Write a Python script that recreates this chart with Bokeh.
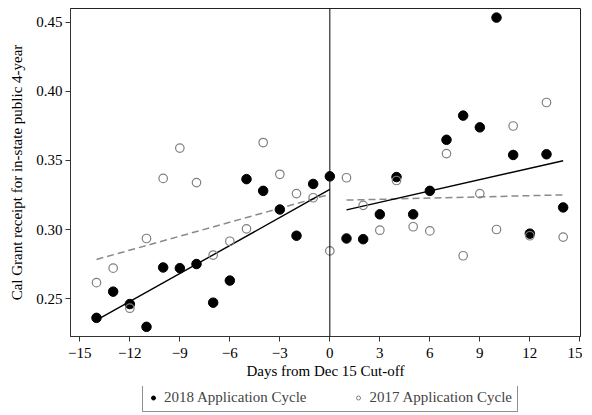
import numpy as np
from bokeh.plotting import figure
from bokeh.layouts import column
from bokeh.models import Range1d, FixedTicker, Legend, LegendItem, Span, NumeralTickFormatter
from bokeh.embed import file_html
from bokeh.resources import INLINE

# ---- data ----
days = list(range(-14, 15))
y2018 = [0.236, 0.255, 0.246, 0.2295, 0.2725, 0.272, 0.275, 0.247, 0.263, 0.3365,
         0.328, 0.3145, 0.2955, 0.333, 0.3385,
         0.2935, 0.293, 0.311, 0.338, 0.311, 0.328, 0.365, 0.3825, 0.374, 0.4535,
         0.354, 0.297, 0.3545, 0.316]
y2017 = [0.2615, 0.272, 0.243, 0.2935, 0.337, 0.359, 0.334, 0.2815, 0.2915, 0.3005,
         0.363, 0.340, 0.326, 0.323, 0.2845,
         0.3375, 0.3175, 0.2995, 0.3355, 0.302, 0.299, 0.355, 0.281, 0.326, 0.300,
         0.375, 0.2955, 0.392, 0.2945]
# fitted-line values at the first and last day of each side of the cut-off
fit2018_left = [0.2343, 0.329]
fit2018_right = [0.3142, 0.3498]
fit2017_left = [0.2783, 0.3255]
fit2017_right = [0.3213, 0.3251]
x_ticks = [-15, -12, -9, -6, -3, 0, 3, 6, 9, 12, 15]
y_ticks = [0.25, 0.30, 0.35, 0.40, 0.45]
series_labels = ["2018 Application Cycle", "2017 Application Cycle"]
x_title = "Days from Dec 15 Cut-off"
y_title = "Cal Grant receipt for in-state public 4-year"

FONT = "Liberation Serif"
FS = "15px"

p = figure(width=582, height=386, output_backend="svg", toolbar_location=None,
           x_range=Range1d(-15.56, 15.04), y_range=Range1d(0.2225, 0.4601),
           min_border_left=70, min_border_right=2, min_border_top=8, min_border_bottom=50)
p.background_fill_color = "white"
p.border_fill_color = "white"
p.outline_line_color = "#222222"
p.outline_line_width = 1
p.xgrid.visible = False
p.ygrid.visible = False

for ax in (p.xaxis[0], p.yaxis[0]):
    ax.axis_line_color = "#333333"
    ax.major_tick_line_color = "#333333"
    ax.major_tick_out = 5
    ax.major_tick_in = 0
    ax.minor_tick_line_color = None
    ax.major_label_text_font = FONT
    ax.major_label_text_font_size = FS
    ax.major_label_text_color = "black"
    ax.axis_label_text_font = FONT
    ax.axis_label_text_font_size = FS
    ax.axis_label_text_font_style = "normal"
    ax.axis_label_text_color = "black"

p.xaxis.ticker = FixedTicker(ticks=x_ticks)
p.yaxis.ticker = FixedTicker(ticks=y_ticks)
p.yaxis.formatter = NumeralTickFormatter(format="0.00")
p.xaxis.axis_label = x_title
p.yaxis.axis_label = y_title
p.xaxis.major_label_standoff = 6
p.yaxis.major_label_standoff = 3
p.xaxis.axis_label_standoff = 2
p.yaxis.axis_label_standoff = 8

# cutoff line
p.add_layout(Span(location=0, dimension="height", line_color="black", line_width=1))

d = np.array(days)
left_x = [int(d[d <= 0].min()), int(d[d <= 0].max())]
right_x = [int(d[d > 0].min()), int(d[d > 0].max())]

p.line(left_x, fit2017_left, line_color="#8a8a8a", line_width=1.5, line_dash="7 4")
p.line(right_x, fit2017_right, line_color="#8a8a8a", line_width=1.5, line_dash="7 4")
p.line(left_x, fit2018_left, line_color="black", line_width=1.4)
p.line(right_x, fit2018_right, line_color="black", line_width=1.4)

p.scatter(days, y2018, size=9.5, fill_color="black", line_color="black")
p.scatter(days, y2017, size=8.5, fill_color=None, line_color="#7f7f7f", line_width=1.2)

# ---- legend strip below the plot ----
lf = figure(width=582, height=28, output_backend="svg", toolbar_location=None,
            x_axis_type=None, y_axis_type=None, min_border=0,
            x_range=Range1d(0, 1), y_range=Range1d(0, 1))
lf.outline_line_color = None
lf.xgrid.visible = False
lf.ygrid.visible = False
# proxy glyphs (one point kept outside the visible range)
lg18 = lf.scatter(x=[-5], y=[-5], size=7, fill_color="black", line_color="black")
lg17 = lf.scatter(x=[-5], y=[-5], size=6, fill_color=None, line_color="#7f7f7f", line_width=1)
legend = Legend(items=[LegendItem(label=series_labels[0], renderers=[lg18]),
                       LegendItem(label=series_labels[1], renderers=[lg17])],
                orientation="horizontal", location=(72, 2),
                border_line_color="#222222", border_line_width=1,
                label_text_font=FONT, label_text_font_size=FS,
                glyph_width=10, glyph_height=15, label_standoff=6, spacing=47,
                padding=5, margin=0, label_height=15)
lf.add_layout(legend, "center")

open("out.html", "w").write(file_html(column(p, lf), INLINE))
